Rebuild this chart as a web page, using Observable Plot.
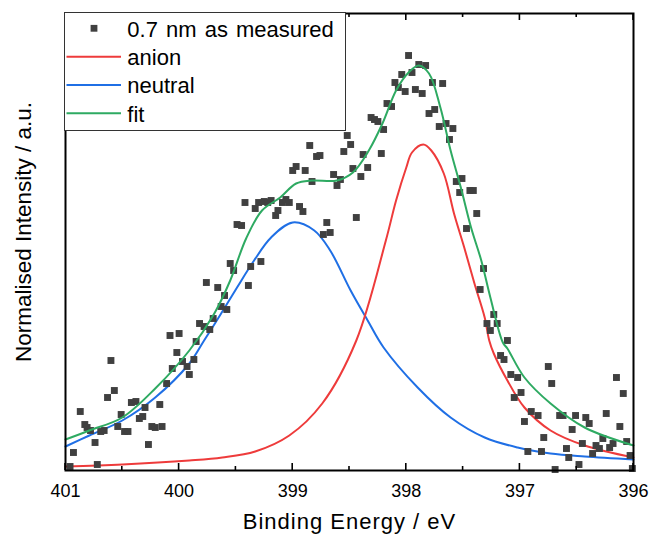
<!DOCTYPE html>
<html>
<head>
<meta charset="utf-8">
<script src="https://cdn.jsdelivr.net/npm/d3@7"></script>
<script src="https://cdn.jsdelivr.net/npm/@observablehq/plot@0.6"></script>
<style>
  html, body { margin: 0; padding: 0; background: #fff; }
  #wrap { position: relative; width: 650px; height: 535px; overflow: hidden; font-family: "Liberation Sans", Arial, sans-serif; }
  #legend { position: absolute; left: 64px; top: 12px; }
</style>
</head>
<body>
<div id="wrap"></div>
<script>
// ---- data (binding energy in eV, intensity in arbitrary units) ----
const measuredEnergy = [400.96,400.93,400.87,400.83,400.81,400.78,400.74,400.72,400.69,400.66,400.63,400.60,400.57,400.54,400.51,400.48,400.45,400.42,400.38,400.35,400.32,400.30,400.27,400.24,400.21,400.17,400.15,400.11,400.08,400.06,400.02,400.00,399.97,399.93,399.91,399.87,399.85,399.82,399.78,399.73,399.76,399.70,399.66,399.63,399.60,399.58,399.55,399.52,399.49,399.45,399.42,399.39,399.37,399.33,399.30,399.28,399.25,399.22,399.19,399.15,399.13,399.09,399.06,399.03,399.00,398.97,398.94,398.91,398.89,398.85,398.83,398.79,398.76,398.73,398.70,398.67,398.64,398.61,398.58,398.55,398.52,398.49,398.47,398.44,398.40,398.38,398.34,398.31,398.28,398.25,398.22,398.20,398.17,398.13,398.10,398.07,398.04,398.01,397.98,397.95,397.92,397.89,397.86,397.83,397.80,397.77,397.75,397.71,397.68,397.65,397.62,397.59,397.56,397.53,397.51,397.47,397.44,397.41,397.38,397.35,397.32,397.29,397.26,397.23,397.20,397.17,397.14,397.11,397.08,397.05,397.02,396.99,396.96,396.93,396.90,396.84,396.81,396.79,396.75,396.72,396.69,396.65,396.62,396.59,396.57,396.54,396.51,396.48,396.45,396.42,396.39,396.36,396.33,396.30,396.27,396.24,396.21,396.18,396.15,396.12,396.09,396.06,396.03,396.01];
const measuredIntensity = [4,18,59,46,43,40,28,6,39,40,73,110,80,44,56,39,39,68,69,52,54,63,26,44,43,66,44,87,135,102,118,137,109,104,96,111,129,147,144,141,188,152,183,164,175,161,207,200,246,245,268,185,204,262,268,209,269,268,270,255,260,268,271,268,300,304,264,259,300,325,289,314,315,236,248,238,296,285,291,319,335,326,302,253,294,316,303,353,351,349,317,341,367,364,388,383,396,379,415,398,381,406,377,405,357,388,361,344,387,347,331,342,289,278,292,242,280,280,257,181,202,147,140,156,147,115,111,130,96,73,93,78,49,19,59,55,19,33,104,87,1,55,55,22,13,41,55,6,27,53,47,17,25,22,32,57,23,27,93,44,77,29,15,2];

const anionEnergy    = [401.00,400.50,399.91,399.62,399.33,399.03,398.74,398.44,398.18,398.09,398.00,397.95,397.85,397.78,397.67,397.58,397.49,397.40,397.31,397.27,397.23,397.11,396.96,396.73,396.43,396.00];
const anionIntensity = [4,6,10,13,19,35,67,130,230,270,303,318,326,320,297,257,223,187,153,130,117,90,63,40,25,13];

const neutralEnergy    = [401.00,400.79,400.50,400.21,399.91,399.78,399.63,399.49,399.34,399.19,399.00,398.81,398.67,398.49,398.34,398.20,397.90,397.61,397.31,397.02,396.73,396.43,396.00];
const neutralIntensity = [24,35,50,73,107,130,157,183,210,233,248,240,220,180,150,123,83,53,33,23,17,14,11];

const fitEnergy    = [401.00,400.79,400.50,400.21,399.91,399.69,399.55,399.41,399.27,399.11,398.97,398.83,398.61,398.47,398.33,398.21,398.09,397.98,397.89,397.80,397.70,397.61,397.52,397.43,397.34,397.26,397.15,397.11,396.96,396.73,396.43,396.00];
const fitIntensity = [31,40,53,82,120,157,190,232,260,273,287,290,290,298,320,347,380,398,405,397,363,320,283,243,210,173,128,122,93,67,43,25];

const majorTicks = [401, 400, 399, 398, 397, 396];
const minorTicks = [400.5, 399.5, 398.5, 397.5, 396.5];

const seriesNames = ["0.7 nm as measured", "anion", "neutral", "fit"];
const seriesColors = ["#404040", "#EE3B3B", "#1F6FE5", "#2EAA62"];
const xLabel = "Binding Energy / eV";
const yLabel = "Normalised Intensity / a.u.";

// ---- build tables ----
const measured = measuredEnergy.map((e, i) => ({e, v: measuredIntensity[i]}));
const anion = anionEnergy.map((e, i) => ({e, v: anionIntensity[i]}));
const neutral = neutralEnergy.map((e, i) => ({e, v: neutralIntensity[i]}));
const fit = fitEnergy.map((e, i) => ({e, v: fitIntensity[i]}));

const font = "'Liberation Sans', Arial, sans-serif";

const chart = Plot.plot({
  width: 650,
  height: 535,
  marginLeft: 65,
  marginRight: 17,
  marginTop: 13,
  marginBottom: 65,
  style: {fontFamily: font, fontSize: "18px", color: "black", background: "white"},
  x: {domain: [401, 396]},
  y: {domain: [0, 457]},
  marks: [
    Plot.line(neutral, {x: "e", y: "v", stroke: seriesColors[2], strokeWidth: 2, curve: "catmull-rom"}),
    Plot.line(anion, {x: "e", y: "v", stroke: seriesColors[1], strokeWidth: 2, curve: "catmull-rom"}),
    Plot.dot(measured, {x: "e", y: "v", symbol: "square", r: 3.9, fill: seriesColors[0], stroke: "none"}),
    Plot.line(fit, {x: "e", y: "v", stroke: seriesColors[3], strokeWidth: 2, curve: "catmull-rom"}),
    Plot.frame({stroke: "black", strokeWidth: 2}),
    Plot.axisX({ticks: majorTicks, tickSize: 0, tickPadding: 14, fontSize: 18, tickFormat: d => String(d), label: null}),
    Plot.axisY({ticks: [], label: null}),
    Plot.text([xLabel], {text: d => d, frameAnchor: "bottom", dy: 51, fontSize: 22, lineAnchor: "middle", textAnchor: "middle"}),
    Plot.text([yLabel], {text: d => d, frameAnchor: "left", rotate: -90, dx: -42, dy: -10, fontSize: 22.5, lineAnchor: "middle", textAnchor: "middle"})
  ]
});

document.getElementById("wrap").appendChild(chart);

// widen the x-axis title slightly, as in the reference
d3.select(chart).selectAll("text").filter(function() { return this.textContent === xLabel; })
  .style("letter-spacing", "1px");

// inward ticks on bottom and top edges, placed with the chart's own x scale
const xs = chart.scale("x");
const svg = d3.select(chart);
const yBottom = 535 - 65, yTop = 13;
const tg = svg.append("g").attr("stroke", "black").attr("stroke-width", 1.6);
for (const [list, len] of [[majorTicks, 7], [minorTicks, 4]]) {
  for (const t of list) {
    const px = xs.apply(t);
    tg.append("line").attr("x1", px).attr("x2", px).attr("y1", yBottom).attr("y2", yBottom - len);
    tg.append("line").attr("x1", px).attr("x2", px).attr("y1", yTop).attr("y2", yTop + len);
  }
}

// legend (inside the plot, top-left)
const lg = d3.select("#wrap").append("svg").attr("id", "legend")
  .attr("width", 283).attr("height", 120)
  .style("font-family", font);
lg.append("rect").attr("x", 0.5).attr("y", 0.5).attr("width", 281).attr("height", 118)
  .attr("fill", "white").attr("stroke", "#333").attr("stroke-width", 1);
const rowY = [16.3, 44.7, 73, 101.3];
seriesNames.forEach((name, i) => {
  const cy = rowY[i];
  if (i === 0) {
    lg.append("rect").attr("x", 30 - 3.4).attr("y", cy - 3.4).attr("width", 6.8).attr("height", 6.8).attr("fill", seriesColors[0]);
  } else {
    lg.append("line").attr("x1", 2.5).attr("x2", 57).attr("y1", cy).attr("y2", cy)
      .attr("stroke", seriesColors[i]).attr("stroke-width", 2);
  }
  lg.append("text").attr("x", 63.3).attr("y", cy + 8.4).attr("font-size", 22)
    .attr("fill", "black").style("word-spacing", i === 0 ? "2px" : "0px").text(name);
});
</script>
</body>
</html>
